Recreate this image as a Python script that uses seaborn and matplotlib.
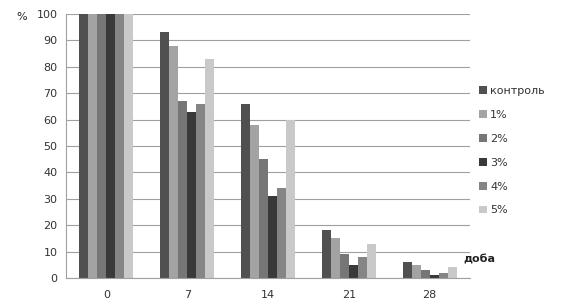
import matplotlib
matplotlib.use("Agg")
import matplotlib.pyplot as plt
import seaborn as sns
import pandas as pd
from matplotlib.patches import Patch

days = ["0", "7", "14", "21", "28"]
series = ["контроль", "1%", "2%", "3%", "4%", "5%"]
control = [100, 93, 66, 18, 6]
p1 = [100, 88, 58, 15, 5]
p2 = [100, 67, 45, 9, 3]
p3 = [100, 63, 31, 5, 1]
p4 = [100, 66, 34, 8, 2]
p5 = [100, 83, 60, 13, 4]
colors = ["#505050", "#a3a3a3", "#767676", "#393939", "#858585", "#c9c9c9"]

rows = []
for name, vals in zip(series, [control, p1, p2, p3, p4, p5]):
    for d, v in zip(days, vals):
        rows.append({"day": d, "series": name, "value": v})
df = pd.DataFrame(rows)

sns.set_style("white")
plt.rcParams['font.family'] = ['DejaVu Sans']
fig = plt.figure(figsize=(5.67, 3.02), dpi=100)
ax = fig.add_axes([66/567, 1-278/302, (470-66)/567, (278-14)/302])

sns.barplot(data=df, x="day", y="value", hue="series", order=days, hue_order=series,
            palette=colors, width=0.67, gap=0, linewidth=0, saturation=1, ax=ax, legend=False)

ax.set_ylim(0, 100)
ax.set_xlim(-0.5, 4.5)
ax.set_yticks(range(0, 101, 10))
ax.yaxis.grid(True, color="#a0a0a0", linewidth=0.8)
ax.set_axisbelow(True)
for s in ["top", "right"]:
    ax.spines[s].set_visible(False)
for s in ["left", "bottom"]:
    ax.spines[s].set_color("#a0a0a0")
    ax.spines[s].set_linewidth(0.8)
ax.tick_params(axis="both", length=0, labelsize=8, colors="#333333")
ax.tick_params(axis="x", pad=9)
ax.tick_params(axis="y", pad=6)
ax.set_xlabel("")
ax.set_ylabel("")

fig.text(16/567, 1-17/302, "%", fontsize=8, ha="left", va="center", color="#222222")
fig.text(463/567, 1-260/302, "доба", fontsize=8, fontweight="bold", ha="left", va="center", color="#222222")

handles = [Patch(facecolor=c, edgecolor="none") for c in colors]
leg = fig.legend(handles, series, loc="upper left", bbox_to_anchor=(479/567, 1-86/302),
                 frameon=False, fontsize=8, handlelength=0.7, handleheight=0.7,
                 handletextpad=0.3, labelspacing=1.25, borderaxespad=0, borderpad=0)
for t in leg.get_texts():
    t.set_color("#333333")

fig.savefig("out.png", dpi=100)
